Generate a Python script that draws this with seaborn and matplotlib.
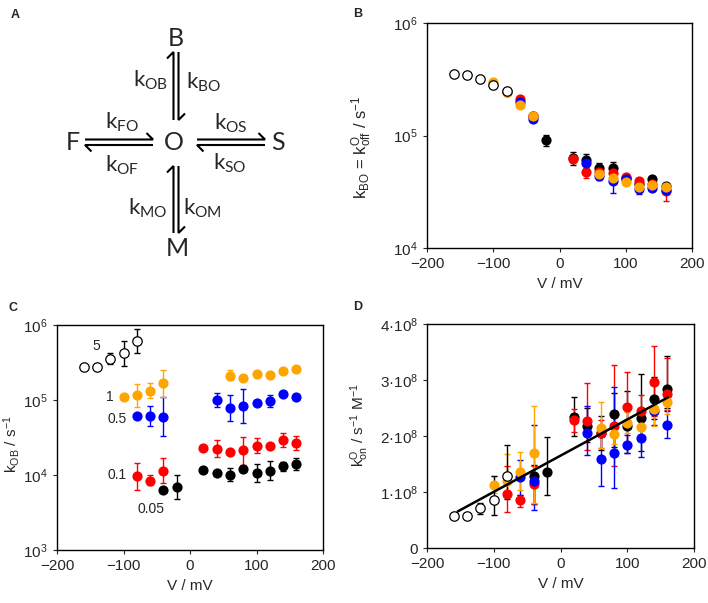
import matplotlib
matplotlib.use('Agg')
import matplotlib.pyplot as plt
import numpy as np
import pandas as pd
import seaborn as sns
from matplotlib.ticker import NullLocator, FixedLocator, FixedFormatter

sns.set_style('ticks')
plt.rcParams['font.family'] = ['Liberation Sans', 'DejaVu Sans']
plt.rcParams['mathtext.default'] = 'regular'

colors = {'open': 'white', 'black': 'black', 'red': '#ff0000', 'blue': '#0000ff', 'orange': '#ffa500'}
order = ['black', 'red', 'blue', 'orange', 'open']

# ---- panel B: k_BO (relative errors)
b_v = {
    'open': [-160, -140, -120, -100, -80],
    'orange': [-100, -80, -60, -40, 60, 80, 100, 120, 140, 160],
    'blue': [-60, -40, 40, 60, 80, 100, 120, 140, 160],
    'red': [-80, -60, -40, 20, 40, 60, 80, 100, 120, 140, 160],
    'black': [-40, -20, 20, 40, 60, 80, 100, 120, 140, 160],
}
b_k = {
    'open': [3.53e5, 3.44e5, 3.19e5, 2.84e5, 2.51e5],
    'orange': [2.98e5, 2.45e5, 1.87e5, 1.48e5, 4.56e4, 4.23e4, 3.9e4, 3.52e4, 3.64e4, 3.48e4],
    'blue': [2.0e5, 1.41e5, 5.66e4, 4.4e4, 3.95e4, 4.1e4, 3.34e4, 3.4e4, 3.3e4],
    'red': [2.43e5, 2.12e5, 1.5e5, 6.15e4, 4.78e4, 4.7e4, 4.68e4, 4.31e4, 3.98e4, 3.7e4, 3.18e4],
    'black': [1.5e5, 9.1e4, 6.3e4, 6.0e4, 5.19e4, 5.12e4, 4.2e4, 3.7e4, 4.11e4, 3.59e4],
}
b_rel = {
    'open': [0.03, 0.03, 0.03, 0.03, 0.03],
    'orange': [0.04] * 10,
    'blue': [0.04, 0.04, 0.05, 0.08, 0.22, 0.08, 0.10, 0.06, 0.06],
    'red': [0.04, 0.04, 0.04, 0.05, 0.13, 0.05, 0.08, 0.05, 0.05, 0.06, 0.18],
    'black': [0.05, 0.12, 0.13, 0.14, 0.09, 0.13, 0.05, 0.05, 0.05, 0.05],
}

# ---- panel C: k_OB (lower / upper bounds)
c_v = dict(b_v, blue=[-80, -60, -40, 40, 60, 80, 100, 120, 140, 160])
c_k = {
    'open': [2.78e5, 2.78e5, 3.52e5, 4.19e5, 6.12e5],
    'orange': [1.09e5, 1.17e5, 1.32e5, 1.67e5, 2.11e5, 1.99e5, 2.22e5, 2.13e5, 2.44e5, 2.56e5],
    'blue': [6.18e4, 6.18e4, 5.93e4, 1.0e5, 7.74e4, 8.32e4, 9.0e4, 9.7e4, 1.19e5, 1.09e5],
    'red': [9.7e3, 8.4e3, 1.14e4, 2.27e4, 2.2e4, 2.05e4, 2.15e4, 2.46e4, 2.44e4, 2.93e4, 2.7e4],
    'black': [6.3e3, 6.85e3, 1.15e4, 1.07e4, 1.0e4, 1.19e4, 1.07e4, 1.14e4, 1.32e4, 1.39e4],
}
c_lo = {
    'open': [2.78e5, 2.78e5, 3.02e5, 2.84e5, 4.28e5],
    'orange': [1.05e5, 8.15e4, 1.05e5, 1.09e5, 1.85e5, 1.92e5, 2.14e5, 2.05e5, 2.30e5, 2.45e5],
    'blue': [5.9e4, 4.5e4, 3.31e4, 7.98e4, 5.3e4, 4.89e4, 8.6e4, 8.0e4, 1.14e5, 1.05e5],
    'red': [6.3e3, 7.36e3, 7.9e3, 2.18e4, 1.76e4, 1.96e4, 1.36e4, 1.99e4, 2.33e4, 2.39e4, 2.15e4],
    'black': [6.0e3, 4.74e3, 1.1e4, 1.02e4, 8.4e3, 1.08e4, 8.15e3, 8.58e3, 1.14e4, 1.17e4],
}
c_hi = {
    'open': [2.78e5, 2.78e5, 4.19e5, 6.18e5, 8.84e5],
    'orange': [1.13e5, 1.63e5, 1.70e5, 2.51e5, 2.51e5, 2.07e5, 2.30e5, 2.22e5, 2.60e5, 2.68e5],
    'blue': [6.5e4, 8.4e4, 1.09e5, 1.23e5, 1.15e5, 1.40e5, 9.4e4, 1.17e5, 1.24e5, 1.13e5],
    'red': [1.43e4, 1.0e4, 1.67e4, 2.37e4, 2.93e4, 2.15e4, 3.24e4, 3.08e4, 2.56e4, 3.6e4, 3.31e4],
    'black': [6.6e3, 1.0e4, 1.22e4, 1.12e4, 1.23e4, 1.32e4, 1.4e4, 1.55e4, 1.5e4, 1.67e4],
}
c_labels = ['5', '1', '0.5', '0.1', '0.05']
c_label_v = [-141, -121, -110, -110, -58]
c_label_k = [5.25e5, 1.08e5, 5.5e4, 1.0e4, 3.5e3]

# ---- panel D: k_on (units of 1e8)
d_v = dict(b_v, black=[-40, -20, 20, 40, 60, 80, 100, 120, 140, 160])
d_k = {
    'open': [0.565, 0.565, 0.713, 0.862, 1.277],
    'orange': [1.117, 1.19, 1.366, 1.705, 2.14, 2.033, 2.24, 2.157, 2.48, 2.6],
    'blue': [1.266, 1.205, 2.062, 1.587, 1.694, 1.842, 1.973, 2.448, 2.2],
    'red': [0.968, 0.862, 1.147, 2.288, 2.276, 2.05, 2.18, 2.514, 2.45, 2.96, 2.746],
    'black': [1.29, 1.366, 2.348, 2.181, 2.062, 2.395, 2.18, 2.33, 2.657, 2.84],
}
d_lo = {
    'open': [0.55, 0.55, 0.61, 0.594, 0.87],
    'orange': [0.98, 1.0, 1.04, 0.8, 1.78, 1.85, 2.05, 1.98, 2.18, 2.4],
    'blue': [0.95, 0.67, 1.66, 1.10, 1.07, 1.69, 1.63, 2.2, 1.96],
    'red': [0.635, 0.74, 0.79, 2.08, 1.75, 1.78, 1.456, 1.87, 2.2, 2.35, 2.47],
    'black': [0.79, 0.95, 2.0, 1.9, 1.75, 1.8, 1.7, 1.73, 2.3, 2.5],
}
d_hi = {
    'open': [0.58, 0.58, 0.81, 1.28, 1.836],
    'orange': [1.277, 1.68, 1.72, 2.54, 2.6, 2.2, 2.42, 2.32, 2.72, 2.78],
    'blue': [1.575, 2.2, 2.53, 2.05, 2.88, 2.02, 2.17, 2.67, 2.44],
    'red': [1.456, 0.95, 1.46, 2.48, 2.95, 2.29, 3.27, 3.14, 2.73, 3.61, 3.39],
    'black': [1.485, 1.99, 2.7, 2.5, 2.35, 2.77, 2.8, 3.11, 3.05, 3.43],
}
fit_v = [-154, 161]
fit_k = [0.653, 2.69]

W, H = 708, 603
fig = plt.figure(figsize=(W / 100, H / 100), dpi=100)


def px_axes(x0, y0, x1, y1):
    return fig.add_axes([x0 / W, 1 - y1 / H, (x1 - x0) / W, (y1 - y0) / H])


def draw_series(ax, vdict, kdict, lo=None, hi=None, rel=None, scale=1.0):
    for name in order:
        df = pd.DataFrame({'V': vdict[name], 'k': np.array(kdict[name]) * scale})
        if rel is not None:
            e = df['k'] * np.array(rel[name])
            yerr = [e, e]
        else:
            yerr = [df['k'] - np.array(lo[name]) * scale, np.array(hi[name]) * scale - df['k']]
        ecol = 'black' if name == 'open' else colors[name]
        ax.errorbar(df['V'], df['k'], yerr=yerr, fmt='none', ecolor=ecol,
                    elinewidth=1.0, capsize=2, capthick=1.0, zorder=2)
        if name == 'open':
            sns.scatterplot(data=df, x='V', y='k', ax=ax, s=46, color='white',
                            edgecolor='black', linewidth=0.9, zorder=4)
        else:
            sns.scatterplot(data=df, x='V', y='k', ax=ax, s=54, color=colors[name],
                            edgecolor=colors[name], linewidth=0, zorder=3)


def style_axes(ax):
    ax.set_xlim(-200, 200)
    ax.set_xticks([-200, -100, 0, 100, 200])
    ax.tick_params(labelsize=11, length=3, width=0.8, direction='out')
    for s in ax.spines.values():
        s.set_linewidth(1.0)
        s.set_color('black')
    ax.set_xlabel('V / mV', fontsize=11)


# ---- panel A: kinetic scheme
axA = fig.add_axes([0, 0.5, 0.5, 0.5])
axA.set_xlim(0, W / 2)
axA.set_ylim(H / 2, 0)
axA.axis('off')
diag_font = ['Lato', 'DejaVu Sans']
for lab, x, y in [('B', 176, 38), ('O', 174, 143), ('F', 73, 143), ('S', 278, 143), ('M', 177, 248)]:
    axA.text(x, y, lab, fontsize=18, ha='center', va='center', family=diag_font)
for lab, x, y, ha in [('OB', 168, 80, 'right'), ('BO', 186, 82, 'left'),
                      ('FO', 122, 122, 'center'), ('OF', 122, 165, 'center'),
                      ('OS', 231, 123, 'center'), ('SO', 230, 163, 'center'),
                      ('MO', 168, 208, 'right'), ('OM', 183, 208, 'left')]:
    axA.text(x, y, r'$k_{%s}$' % lab, fontsize=16, ha=ha, va='center', family=diag_font)


def harpoon(x0, y0, x1, y1, side):
    u = np.array([x1 - x0, y1 - y0], float)
    u /= np.hypot(*u)
    n = np.array([-u[1], u[0]]) * side
    bx, by = np.array([x1, y1]) - 6.5 * u + 6.5 * n
    axA.plot([x0, x1, bx], [y0, y1, by], color='black', lw=1.5,
             solid_joinstyle='miter', solid_capstyle='butt')


harpoon(173.5, 120, 173.5, 52, -1)
harpoon(178.5, 52, 178.5, 120, -1)
harpoon(85, 139.5, 153, 139.5, -1)
harpoon(153, 145, 85, 145, -1)
harpoon(197, 139.5, 265, 139.5, -1)
harpoon(265, 145, 197, 145, -1)
harpoon(173.5, 233, 173.5, 166, -1)
harpoon(178.5, 166, 178.5, 233, -1)

# ---- panel B
axB = px_axes(427, 23, 692, 248)
draw_series(axB, b_v, b_k, rel=b_rel)
axB.set_yscale('log')
axB.set_ylim(1e4, 1e6)
axB.yaxis.set_major_locator(FixedLocator([1e4, 1e5, 1e6]))
axB.yaxis.set_major_formatter(FixedFormatter([r'10$^{4}$', r'10$^{5}$', r'10$^{6}$']))
axB.yaxis.set_minor_locator(NullLocator())
style_axes(axB)
axB.set_ylabel(r'$k_{BO}$ = $k^{O}_{off}$ / s$^{-1}$', fontsize=12)
axB.yaxis.set_label_coords(-0.2, 0.45)

# ---- panel C
axC = px_axes(57, 325, 323, 550)
draw_series(axC, c_v, c_k, lo=c_lo, hi=c_hi)
axC.set_yscale('log')
axC.set_ylim(1e3, 1e6)
axC.yaxis.set_major_locator(FixedLocator([1e3, 1e4, 1e5, 1e6]))
axC.yaxis.set_major_formatter(FixedFormatter([r'10$^{3}$', r'10$^{4}$', r'10$^{5}$', r'10$^{6}$']))
axC.yaxis.set_minor_locator(NullLocator())
style_axes(axC)
axC.set_ylabel(r'$k_{OB}$ / s$^{-1}$', fontsize=11)
axC.yaxis.set_label_coords(-0.13, 0.47)
for lab, x, y in zip(c_labels, c_label_v, c_label_k):
    axC.text(x, y, lab, fontsize=10, ha='center', va='center')

# ---- panel D
axD = px_axes(427, 324, 694, 548)
draw_series(axD, d_v, d_k, lo=d_lo, hi=d_hi, scale=1e8)
sns.lineplot(x=fit_v, y=np.array(fit_k) * 1e8, ax=axD, color='black', lw=1.8, zorder=5)
axD.set_ylim(0, 4e8)
axD.yaxis.set_major_locator(FixedLocator([0, 1e8, 2e8, 3e8, 4e8]))
axD.yaxis.set_major_formatter(FixedFormatter(['0'] + [r'%d·10$^{8}$' % i for i in range(1, 5)]))
style_axes(axD)
axD.set_ylabel(r'$k^{O}_{on}$ / s$^{-1}$ M$^{-1}$', fontsize=11)
axD.yaxis.set_label_coords(-0.21, 0.55)

for lab, x, y in [('A', 15, 15), ('B', 358, 14), ('C', 13, 308), ('D', 358, 307)]:
    fig.text(x / W, 1 - y / H, lab, fontsize=9, fontweight='bold', ha='center', va='center')

fig.savefig('out.png', dpi=100)
